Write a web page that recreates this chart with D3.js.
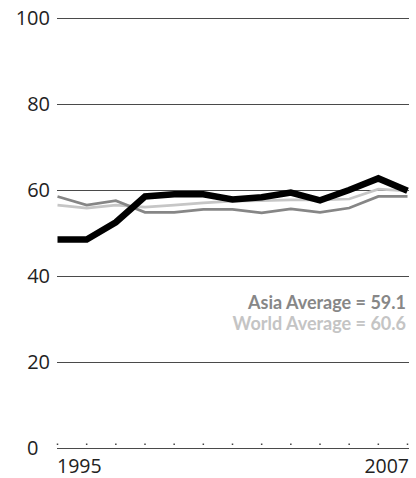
<!DOCTYPE html>
<html><head><meta charset="utf-8">
<script src="https://cdn.jsdelivr.net/npm/d3@7"></script>
<style>
html,body{margin:0;padding:0;background:#fff;}
svg{display:block;}
</style></head>
<body>
<svg id="chart" width="416" height="478"></svg>
<script>
const years = [1995,1996,1997,1998,1999,2000,2001,2002,2003,2004,2005,2006,2007];
const countrySeries = [48.5,48.5,52.5,58.5,59,59,57.8,58.3,59.4,57.6,60,62.7,59.8];
const asiaSeries = [58.5,56.5,57.5,54.8,54.8,55.5,55.5,54.7,55.6,54.8,55.8,58.5,58.5];
const worldSeries = [56.5,55.8,56.5,56,56.5,57,57.4,57.5,57.7,57.7,57.9,60.2,59.8];
const yTicks = [0,20,40,60,80,100];
const xLabels = [1995,2007];
const notes = [{text:"Asia Average = 59.1", color:"#878787"},{text:"World Average = 60.6", color:"#c4c4c4"}];

const svg = d3.select("#chart");
const x = d3.scaleLinear().domain([1995,2007]).range([57.5,407.5]);
const y = d3.scaleLinear().domain([0,100]).range([448,18]);
const font = "'Open Sans', sans-serif";

// gridlines
svg.append("g").selectAll("line").data(yTicks.filter(d=>d>0)).join("line")
  .attr("x1",57).attr("x2",409).attr("y1",d=>y(d)+0.5).attr("y2",d=>y(d)+0.5)
  .attr("stroke","#4a4a4a").attr("stroke-width",1);
// baseline
svg.append("line").attr("x1",57).attr("x2",409).attr("y1",y(0)+0.5).attr("y2",y(0)+0.5)
  .attr("stroke","#4a4a4a").attr("stroke-width",1);
// tick dots
svg.append("g").selectAll("rect").data(years).join("rect")
  .attr("x",d=>x(d)-0.75).attr("y",y(0)-4.5).attr("width",1.5).attr("height",1.5)
  .attr("fill","#444");

// y labels
svg.append("g").selectAll("text").data(yTicks).join("text")
  .attr("x",d=>d===0?38.5:50).attr("y",d=>y(d)).attr("dy","0.36em")
  .attr("text-anchor","end").attr("font-family",font).attr("font-size",20)
  .attr("fill","#222").text(d=>d);

// x labels
svg.append("g").selectAll("text").data(xLabels).join("text")
  .attr("x",(d,i)=>i===0?x(d)-0.5:409).attr("y",472.5)
  .attr("text-anchor",(d,i)=>i===0?"start":"end")
  .attr("font-family",font).attr("font-size",19.5).attr("fill","#222").text(d=>d);

const line = d3.line().x((d,i)=>x(years[i])).y(d=>y(d));
svg.append("path").datum(worldSeries).attr("d",line).attr("fill","none")
  .attr("stroke","#c6c6c6").attr("stroke-width",2.7);
svg.append("path").datum(asiaSeries).attr("d",line).attr("fill","none")
  .attr("stroke","#868686").attr("stroke-width",2.7);
svg.append("path").datum(countrySeries).attr("d",line).attr("fill","none")
  .attr("stroke","#000").attr("stroke-width",6.5).attr("stroke-linejoin","miter");

svg.append("g").selectAll("text").data(notes).join("text")
  .attr("x",406).attr("y",(d,i)=>308.5+i*21).attr("text-anchor","end")
  .attr("font-family","Lato, sans-serif").attr("font-weight","bold").attr("font-size",18)
  .attr("fill",d=>d.color).text(d=>d.text);
</script>
</body></html>
